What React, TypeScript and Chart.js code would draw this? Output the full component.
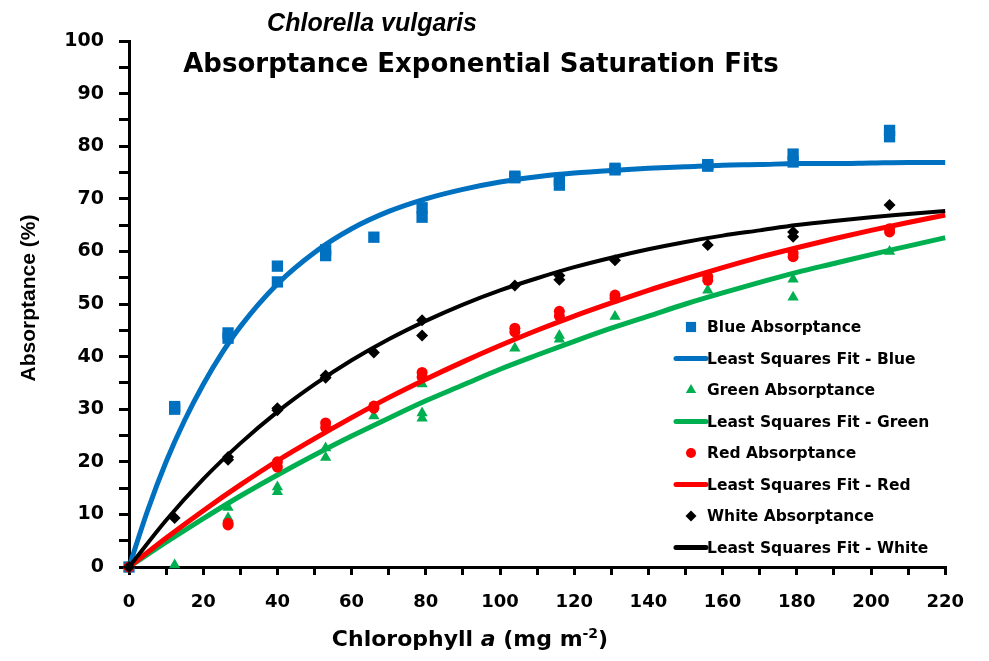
import React, { useEffect, useRef } from "react";
import { Chart, registerables } from "chart.js";

Chart.register(...registerables);

const TITLE_1 = "Chlorella vulgaris";
const TITLE_2 = "Absorptance Exponential Saturation Fits";
const Y_TITLE = "Absorptance (%)";

// measured points (x = chlorophyll a, y = absorptance %)
const blueX = [0, 12.3, 12.3, 26.7, 26.7, 40, 40, 53, 53, 66, 79, 79, 104, 104, 116, 116, 131, 131, 156, 156, 179, 179, 205, 205];
const blueY = [0, 30.5, 30.0, 44.5, 43.5, 57.2, 54.2, 60.3, 59.2, 62.7, 68.3, 66.5, 74.3, 74.0, 73.6, 72.6, 75.8, 75.5, 76.5, 76.2, 78.5, 77.0, 83.0, 81.8];

const greenX = [0, 12.3, 26.7, 26.7, 40, 40, 53, 53, 66, 79, 79, 79, 104, 116, 116, 131, 156, 179, 179, 205];
const greenY = [0, 0.4, 11.3, 9.3, 15.2, 14.3, 22.6, 20.8, 28.7, 34.8, 29.3, 28.3, 41.6, 44.0, 43.3, 47.6, 52.6, 54.7, 51.3, 60.0];

const redX = [0, 26.7, 26.7, 40, 40, 53, 53, 66, 66, 79, 79, 104, 104, 116, 116, 131, 131, 156, 156, 179, 179, 205, 205];
const redY = [0, 8.0, 8.3, 20.0, 19.0, 27.4, 26.5, 30.6, 30.2, 37.0, 36.1, 45.4, 44.7, 48.6, 47.7, 51.7, 51.1, 55.2, 54.5, 59.7, 59.0, 64.3, 63.7];

const whiteX = [0, 12.3, 26.7, 26.7, 40, 40, 53, 53, 66, 79, 79, 104, 116, 116, 131, 156, 179, 179, 205];
const whiteY = [0, 9.3, 20.9, 20.4, 30.2, 29.8, 36.4, 36.0, 40.8, 46.9, 44.0, 53.5, 55.4, 54.6, 58.3, 61.2, 63.7, 62.8, 68.8];

// least squares fit curves
const blueFitX = [0, 5, 10, 15, 20, 25, 30, 40, 50, 60, 70, 80, 90, 100, 110, 120, 130, 140, 150, 160, 170, 180, 190, 200, 210, 220];
const blueFitY = [0, 10.7, 20.0, 27.9, 34.7, 40.6, 45.7, 53.8, 59.8, 64.3, 67.6, 70.0, 71.8, 73.2, 74.2, 74.9, 75.4, 75.8, 76.1, 76.4, 76.5, 76.7, 76.7, 76.8, 76.9, 76.9];

const fitX = [0, 10, 20, 30, 40, 50, 60, 70, 80, 90, 100, 110, 120, 130, 140, 150, 160, 170, 180, 190, 200, 210, 220];
const greenFitY = [0, 4.7, 9.2, 13.5, 17.5, 21.3, 24.9, 28.3, 31.6, 34.6, 37.6, 40.3, 42.9, 45.4, 47.7, 50.0, 52.1, 54.1, 56.0, 57.7, 59.4, 61.0, 62.6];
const redFitY = [0, 5.5, 10.7, 15.6, 20.2, 24.4, 28.4, 32.2, 35.7, 39.0, 42.1, 45.0, 47.7, 50.2, 52.6, 54.8, 56.9, 58.9, 60.7, 62.4, 64.0, 65.5, 66.9];
const whiteFitY = [0, 8.9, 16.7, 23.5, 29.5, 34.7, 39.3, 43.3, 46.8, 49.9, 52.6, 54.9, 57.0, 58.8, 60.4, 61.8, 63.0, 64.0, 65.0, 65.8, 66.5, 67.1, 67.7];

const X_MIN = 0;
const X_MAX = 220;
const Y_MIN = 0;
const Y_MAX = 100;

const BLUE = "#0070C0";
const GREEN = "#00B050";
const RED = "#FF0000";
const BLACK = "#000000";

const DV = "'DejaVu Sans', sans-serif";
const LS = "'Liberation Sans', Arial, sans-serif";

const toPts = (xs: number[], ys: number[]) => xs.map((x, i) => ({ x, y: ys[i] }));

function drawMarker(ctx: CanvasRenderingContext2D, style: string, x: number, y: number, r: number, color: string) {
  ctx.save();
  ctx.fillStyle = color;
  ctx.beginPath();
  if (style === "rect") {
    const s = r * Math.SQRT1_2;
    ctx.rect(x - s, y - s, 2 * s, 2 * s);
  } else if (style === "triangle") {
    ctx.moveTo(x, y - r);
    ctx.lineTo(x + r * 0.866, y + r * 0.5);
    ctx.lineTo(x - r * 0.866, y + r * 0.5);
    ctx.closePath();
  } else if (style === "rectRot") {
    ctx.moveTo(x, y - r);
    ctx.lineTo(x + r, y);
    ctx.lineTo(x, y + r);
    ctx.lineTo(x - r, y);
    ctx.closePath();
  } else {
    ctx.arc(x, y, r, 0, Math.PI * 2);
  }
  ctx.fill();
  ctx.restore();
}

const overlayPlugin = {
  id: "overlay",
  afterDraw(chart: any) {
    const ctx: CanvasRenderingContext2D = chart.ctx;
    const area = chart.chartArea;
    ctx.save();
    ctx.fillStyle = "#000";

    // Title
    ctx.textAlign = "center";
    ctx.textBaseline = "alphabetic";
    ctx.font = `italic bold 25px ${LS}`;
    ctx.fillText(TITLE_1, 364, 23);
    ctx.font = `bold 26px ${DV}`;
    ctx.fillText(TITLE_2, 473, 64);

    // Y axis title
    ctx.save();
    ctx.translate(21, 290);
    ctx.rotate(-Math.PI / 2);
    ctx.textAlign = "center";
    ctx.textBaseline = "middle";
    ctx.font = `bold 21px ${LS}`;
    ctx.fillText(Y_TITLE, 0, 0);
    ctx.restore();

    // X axis title with italic "a" and superscript
    const parts = [
      { t: "Chlorophyll ", f: `bold 22px ${DV}`, dy: 0 },
      { t: "a", f: `italic bold 22px ${DV}`, dy: 0 },
      { t: " (mg m", f: `bold 22px ${DV}`, dy: 0 },
      { t: "-2", f: `bold 14px ${DV}`, dy: -8 },
      { t: ")", f: `bold 22px ${DV}`, dy: 0 },
    ];
    let total = 0;
    for (const p of parts) {
      ctx.font = p.f;
      total += ctx.measureText(p.t).width;
    }
    let cx = 462 - total / 2;
    ctx.textAlign = "left";
    for (const p of parts) {
      ctx.font = p.f;
      ctx.fillText(p.t, cx, 638 + p.dy);
      cx += ctx.measureText(p.t).width;
    }

    // Legend
    const top0 = area.top + 286;
    const gap = 31.5;
    const lineX0 = area.left + 547;
    const lineX1 = area.left + 577;
    const markX = area.left + 562;
    const textX = area.left + 578;
    ctx.textBaseline = "middle";
    ctx.font = `bold 15.5px ${DV}`;
    chart.data.datasets.forEach((ds: any, i: number) => {
      const y = top0 + i * gap;
      if (ds.showLine) {
        ctx.save();
        ctx.strokeStyle = ds.borderColor;
        ctx.lineWidth = 5;
        ctx.lineCap = "round";
        ctx.beginPath();
        ctx.moveTo(lineX0, y);
        ctx.lineTo(lineX1, y);
        ctx.stroke();
        ctx.restore();
      } else {
        const r = ds.pointStyle === "rect" ? 7.2 : ds.pointStyle === "circle" ? 5 : ds.pointStyle === "rectRot" ? 5.5 : 6;
        drawMarker(ctx, ds.pointStyle, markX, y, r, ds.backgroundColor);
      }
      ctx.fillStyle = "#000";
      ctx.fillText(ds.label, textX, y + 1);
    });
    ctx.restore();
  },
};

function pointSet(label: string, xs: number[], ys: number[], color: string, style: string, radius: number, order: number) {
  return {
    label,
    data: toPts(xs, ys),
    showLine: false,
    backgroundColor: color,
    borderColor: color,
    pointStyle: style,
    pointRadius: radius,
    pointBorderWidth: 0,
    pointHoverRadius: radius,
    clip: false as const,
    order,
  };
}

function fitSet(label: string, xs: number[], ys: number[], color: string, width: number, order: number) {
  return {
    label,
    data: toPts(xs, ys),
    showLine: true,
    borderColor: color,
    backgroundColor: color,
    borderWidth: width,
    pointRadius: 0,
    pointHoverRadius: 0,
    cubicInterpolationMode: "monotone" as const,
    fill: false,
    clip: false as const,
    order,
  };
}

export default function App() {
  const ref = useRef<HTMLCanvasElement | null>(null);

  useEffect(() => {
    if (!ref.current) return;
    const tickFont = { family: DV, weight: "bold" as const };
    const chart = new Chart(ref.current, {
      type: "scatter",
      data: {
        datasets: [
          pointSet("Blue Absorptance", blueX, blueY, BLUE, "rect", 8, 8),
          fitSet("Least Squares Fit - Blue", blueFitX, blueFitY, BLUE, 5, 7),
          pointSet("Green Absorptance", greenX, greenY, GREEN, "triangle", 6.5, 6),
          fitSet("Least Squares Fit - Green", fitX, greenFitY, GREEN, 5, 5),
          pointSet("Red Absorptance", redX, redY, RED, "circle", 5.5, 4),
          fitSet("Least Squares Fit - Red", fitX, redFitY, RED, 5, 3),
          pointSet("White Absorptance", whiteX, whiteY, BLACK, "rectRot", 6, 2),
          fitSet("Least Squares Fit - White", fitX, whiteFitY, BLACK, 4, 1),
        ] as any,
      },
      options: {
        responsive: false,
        animation: false,
        events: [],
        layout: { padding: { top: 33, right: 26, left: 0, bottom: 0 } },
        plugins: {
          legend: { display: false },
          title: { display: false },
          tooltip: { enabled: false },
        },
        scales: {
          x: {
            type: "linear",
            min: X_MIN,
            max: X_MAX,
            afterFit: (s: any) => {
              s.height = 86;
            },
            border: { display: true, color: "#000", width: 3 },
            grid: { display: true, drawOnChartArea: false, drawTicks: true, tickLength: 8, color: "#000", lineWidth: 3 },
            ticks: {
              stepSize: 10,
              autoSkip: false,
              maxRotation: 0,
              padding: 17,
              color: "#000",
              font: { ...tickFont, size: 18 },
              callback: (v: any) => (Number(v) % 20 === 0 ? String(v) : ""),
            },
          },
          y: {
            type: "linear",
            min: Y_MIN,
            max: Y_MAX,
            afterFit: (s: any) => {
              s.width = 121;
            },
            border: { display: true, color: "#000", width: 3 },
            grid: { display: true, drawOnChartArea: false, drawTicks: true, tickLength: 10, color: "#000", lineWidth: 3 },
            ticks: {
              stepSize: 5,
              autoSkip: false,
              padding: 15,
              color: "#000",
              font: { ...tickFont, size: 19 },
              callback: (v: any) => (Number(v) % 10 === 0 ? String(v) : ""),
            },
          },
        },
      },
      plugins: [overlayPlugin],
    });
    return () => chart.destroy();
  }, []);

  return (
    <div style={{ width: 973, height: 645, background: "#fff" }}>
      <canvas ref={ref} width={973} height={645} style={{ display: "block" }} />
    </div>
  );
}
